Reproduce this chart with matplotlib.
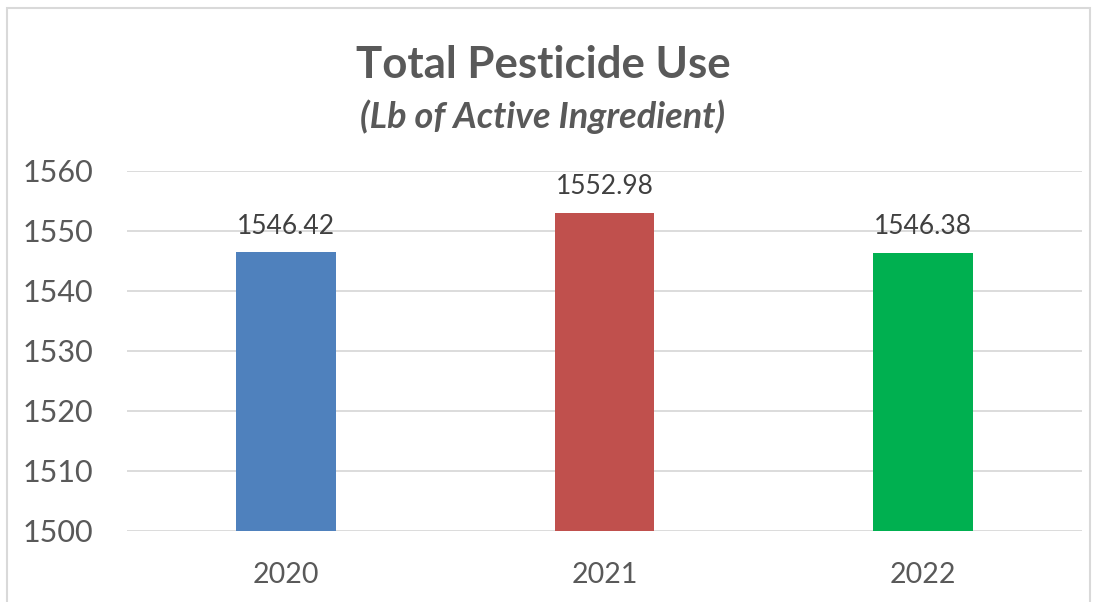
import matplotlib
matplotlib.use("Agg")
import matplotlib.pyplot as plt
from matplotlib.patches import Rectangle

years = ["2020", "2021", "2022"]
values = [1546.42, 1552.98, 1546.38]
colors = ["#4F81BD", "#C0504D", "#00B050"]
yticks = [1500, 1510, 1520, 1530, 1540, 1550, 1560]

plt.rcParams['font.family'] = ['Lato', 'DejaVu Sans']
txt = "#595959"

fig = plt.figure(figsize=(10.99, 6.02), dpi=100)
fig.patches.append(Rectangle((7/1099, -0.05), (1090-7)/1099, 1.05 - 8/602,
                             transform=fig.transFigure, fill=False,
                             edgecolor="#D9D9D9", linewidth=1.5))
ax = fig.add_axes([127/1099, 1-531/602, (1082-127)/1099, (531-171)/602])

x = list(range(len(years)))
bars = ax.bar(x, values, width=0.314, color=colors, zorder=3)
ax.set_xlim(-0.5, 2.5)
ax.set_ylim(1500, 1560)
ax.set_yticks(yticks)
ax.set_xticks(x)
ax.set_xticklabels(years)
ax.grid(axis='y', color="#D9D9D9", linewidth=1.3, zorder=0)
for s in ax.spines.values():
    s.set_visible(False)
ax.tick_params(axis='y', length=0, labelsize=22, labelcolor=txt, pad=24)
ax.tick_params(axis='x', length=0, labelsize=20.5, labelcolor=txt, pad=22)

for xi, v in zip(x, values):
    ax.annotate(f"{v:.2f}", (xi, v), xytext=(0, 10), textcoords="offset points",
                ha='center', va='bottom', fontsize=19, color="#404040")

fig.text(543/1099, 1-65/602, "Total Pesticide Use", ha='center', va='center',
         fontsize=31.5, fontweight='bold', color=txt)
fig.text(543/1099, 1-117/602, "(Lb of Active Ingredient)", ha='center', va='center',
         fontsize=26, fontweight='bold', fontstyle='italic', color=txt)

fig.savefig("out.png", dpi=100)
